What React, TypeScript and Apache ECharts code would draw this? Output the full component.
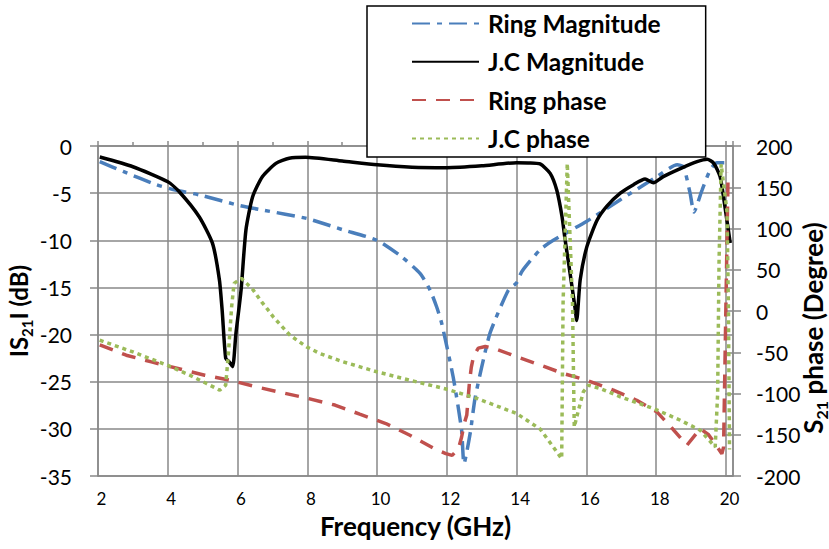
import React, { useEffect, useRef } from "react";
import * as echarts from "echarts";

// ---- data ----
const freqTicks = [2, 4, 6, 8, 10, 12, 14, 16, 18, 20];

const ringMagFreq = [2.05, 2.72, 3.67, 4.25, 4.92, 6.0, 6.73, 8.0, 9.03, 10.0, 10.65, 11.23, 11.52, 11.71, 11.85, 12.18, 12.42, 12.49, 12.67, 12.8, 13.0, 13.24, 13.76, 14.0, 14.15, 14.67, 15.05, 16.0, 16.97, 18.02, 18.6, 18.78, 18.97, 19.08, 19.31, 19.55, 19.74, 19.95];
const ringMagDb = [-1.66, -2.7, -4.1, -4.7, -5.2, -6.26, -6.8, -7.7, -8.9, -10.0, -11.6, -13.5, -15.3, -17.1, -18.8, -24.5, -30.1, -33.7, -30.4, -26.9, -23.4, -19.8, -15.3, -14.5, -13.3, -11.0, -10.0, -8.0, -5.7, -3.25, -2.0, -2.2, -5.0, -7.0, -4.7, -2.5, -1.77, -1.77];

const jcMagFreq = [2.05, 3.0, 4.0, 4.33, 4.9, 5.28, 5.48, 5.56, 5.66, 5.76, 5.86, 5.95, 6.1, 6.24, 6.43, 6.71, 7.1, 7.48, 7.95, 9.0, 10.0, 11.0, 12.0, 13.0, 14.0, 14.33, 14.67, 14.96, 15.15, 15.3, 15.39, 15.53, 15.67, 15.72, 15.82, 16.01, 16.3, 16.58, 16.97, 17.35, 17.68, 17.92, 18.2, 18.69, 19.17, 19.46, 19.65, 19.83, 19.94, 20.12];
const jcMagDb = [-1.17, -2.2, -3.8, -4.85, -7.5, -10.3, -14.2, -17.5, -22.5, -22.9, -23.4, -20.0, -15.3, -8.9, -5.4, -3.25, -1.84, -1.3, -1.2, -1.6, -2.0, -2.25, -2.3, -2.1, -1.77, -1.8, -1.9, -2.9, -4.7, -7.5, -10.0, -13.5, -17.1, -18.5, -14.2, -10.7, -7.9, -6.4, -5.0, -4.1, -3.5, -3.9, -3.25, -2.4, -1.66, -1.4, -1.84, -3.25, -5.7, -10.3];

const ringPhFreq = [2.05, 2.81, 3.53, 4.29, 5.06, 5.78, 6.54, 7.31, 8.02, 8.79, 9.5, 10.25, 10.94, 11.63, 11.97, 12.15, 12.33, 12.42, 12.5, 12.57, 12.62, 12.65, 12.7, 12.77, 12.9, 13.1, 13.33, 14.0, 14.67, 15.34, 16.01, 16.77, 17.44, 18.02, 18.5, 18.88, 19.26, 19.5, 19.7, 19.88, 19.93, 20.06];
const ringPhDeg = [-41, -53.6, -61.7, -69.7, -77.8, -83.9, -92, -99.3, -106, -114, -125, -136.4, -150.6, -166.7, -172.8, -175, -167, -153, -136, -126, -100, -85, -68, -54, -45, -43, -45, -55.4, -65.5, -75.8, -83.9, -96, -108.2, -122.3, -144.3, -162.7, -142.5, -150, -162, -173, -165, 168];

const jcPhFreq = [2.05, 3.0, 4.0, 4.63, 5.11, 5.49, 5.66, 5.73, 5.83, 5.9, 6.11, 6.26, 6.45, 6.69, 6.88, 7.02, 7.5, 7.98, 8.36, 9.03, 10.0, 10.94, 12.0, 12.86, 14.0, 14.67, 15.05, 15.29, 15.33, 15.45, 15.6, 15.65, 15.77, 15.91, 16.06, 16.39, 16.97, 17.92, 18.69, 19.26, 19.69, 19.76, 19.8, 19.86, 20.03, 20.07, 20.1];
const jcPhDeg = [-35.4, -49.6, -66, -77.8, -87.9, -96, -90, -55.6, 5, 33.5, 39.6, 33.5, 25.3, 11.1, 1, -7, -29.3, -43.5, -51.5, -61.7, -73.8, -83.9, -94.8, -106, -124.3, -143, -164.8, -179, 10, 179, 10, -140.5, -120.3, -98, -90, -94, -104, -118.2, -132.4, -144.5, -164.8, -100, 60, 178, 120, 0, -168];

const seriesNames = ["Ring Magnitude", "J.C Magnitude", "Ring phase", "J.C phase"];

const pairs = (xs: number[], ys: number[]) => xs.map((x, i) => [x, ys[i]]);

const FONT = 'Lato, "Open Sans", "DejaVu Sans", sans-serif';
const GRID = "#888888";

export default function App() {
  const ref = useRef<HTMLDivElement>(null);
  useEffect(() => {
    if (!ref.current) return;
    const chart = echarts.init(ref.current, undefined, { renderer: "svg" });
    const option: any = {
      animation: false,
      backgroundColor: "#ffffff",
      textStyle: { fontFamily: FONT },
      grid: { left: 98, right: 96, top: 146, bottom: 73, containLabel: false, outerBoundsMode: "none" },
      legend: {
        left: 367,
        top: 6,
        orient: "vertical",
        selectedMode: false,
        itemWidth: 67,
        itemHeight: 14,
        itemGap: 13.3,
        padding: [5, 45, 6, 44],
        backgroundColor: "#ffffff",
        borderColor: "#000000",
        borderWidth: 1.5,
        borderRadius: 0,
        itemStyle: { opacity: 0 },
        textStyle: {
          fontFamily: FONT,
          fontSize: 24.5,
          fontWeight: "bold",
          color: "#000",
          lineHeight: 24,
          padding: [0, 0, 0, 4],
        },
        data: seriesNames,
      },
      xAxis: [
        {
          type: "value",
          position: "bottom",
          min: 2,
          max: 20.2,
          interval: 2,
          name: "Frequency (GHz)",
          nameLocation: "middle",
          nameGap: 37,
          nameTextStyle: { fontFamily: FONT, fontSize: 26, fontWeight: "bold", color: "#000" },
          axisLine: { show: true, onZero: false, lineStyle: { color: GRID, width: 1.5 } },
          axisTick: { show: false },
          axisLabel: {
            fontFamily: FONT,
            fontSize: 17,
            color: "#000",
            margin: 14,
            padding: [0, 0, 0, 7],
            showMaxLabel: false,
            formatter: (v: number) => (freqTicks.indexOf(v) >= 0 ? String(v) : ""),
          },
          splitLine: { show: true, lineStyle: { color: GRID, width: 1.5 } },
        },
        {
          type: "value",
          position: "top",
          min: 2,
          max: 20.2,
          interval: 2,
          axisLine: { show: true, onZero: false, lineStyle: { color: GRID, width: 1.5 } },
          axisTick: { show: true, length: 5, lineStyle: { color: GRID, width: 1.5 } },
          minorTick: { show: true, splitNumber: 2, length: 4, lineStyle: { color: GRID, width: 1.5 } },
          axisLabel: { show: false },
          splitLine: { show: false },
        },
      ],
      yAxis: [
        {
          type: "value",
          position: "left",
          min: -35,
          max: 0,
          interval: 5,
          name: "{a|IS}{b|21}{a|I (dB)}",
          nameLocation: "middle",
          nameRotate: 90,
          nameGap: 64,
          nameMoveOverlap: false,
          nameTextStyle: {
            rich: {
              a: { fontFamily: FONT, fontSize: 24, fontWeight: "bold", color: "#000", lineHeight: 32 },
              b: { fontFamily: FONT, fontSize: 15, fontWeight: "bold", color: "#000", verticalAlign: "bottom" },
            },
          },
          axisLine: { show: true, onZero: false, lineStyle: { color: GRID, width: 1.5 } },
          axisTick: { show: true, length: 8, lineStyle: { color: GRID, width: 1.5 } },
          axisLabel: { fontFamily: FONT, fontSize: 21, color: "#000", margin: 26 },
          splitLine: { show: true, lineStyle: { color: GRID, width: 1.5 } },
        },
        {
          type: "value",
          position: "right",
          min: -200,
          max: 200,
          interval: 50,
          name: "{a|S}{b|21}{a| phase (Degree)}",
          nameLocation: "middle",
          nameRotate: 90,
          nameGap: 64,
          nameMoveOverlap: false,
          nameTextStyle: {
            padding: [0, 34, 0, 0],
            rich: {
              a: { fontFamily: FONT, fontSize: 26, fontWeight: "bold", color: "#000", lineHeight: 32 },
              b: { fontFamily: FONT, fontSize: 16, fontWeight: "bold", color: "#000", verticalAlign: "bottom" },
            },
          },
          axisLine: { show: true, onZero: false, lineStyle: { color: GRID, width: 1.5 } },
          axisTick: { show: true, length: 8, lineStyle: { color: GRID, width: 1.5 } },
          axisLabel: { fontFamily: FONT, fontSize: 21, color: "#000", margin: 23 },
          splitLine: { show: false },
        },
        {
          type: "value",
          position: "right",
          min: -200,
          max: 200,
          interval: 50,
          axisLine: { show: false, onZero: false },
          axisTick: { show: true, inside: true, length: 8, lineStyle: { color: GRID, width: 1.5 } },
          axisLabel: { show: false },
          splitLine: { show: false },
        },
      ],
      series: [
        {
          name: seriesNames[0],
          type: "line",
          xAxisIndex: 0,
          yAxisIndex: 0,
          symbol: "none",
          smooth: 0.2,
          data: pairs(ringMagFreq, ringMagDb),
          lineStyle: { color: "#4A7EBB", width: 3.5, type: [18, 7, 5, 7] },
          itemStyle: { color: "#4A7EBB" },
        },
        {
          name: seriesNames[1],
          type: "line",
          xAxisIndex: 0,
          yAxisIndex: 0,
          symbol: "none",
          smooth: 0.2,
          data: pairs(jcMagFreq, jcMagDb),
          lineStyle: { color: "#000000", width: 3.5, type: "solid" },
          itemStyle: { color: "#000000" },
        },
        {
          name: seriesNames[2],
          type: "line",
          xAxisIndex: 0,
          yAxisIndex: 1,
          symbol: "none",
          data: pairs(ringPhFreq, ringPhDeg),
          lineStyle: { color: "#C0504D", width: 3.5, type: [14, 10] },
          itemStyle: { color: "#C0504D" },
        },
        {
          name: seriesNames[3],
          type: "line",
          xAxisIndex: 0,
          yAxisIndex: 1,
          symbol: "none",
          data: pairs(jcPhFreq, jcPhDeg),
          lineStyle: { color: "#9BBB59", width: 3.5, type: [4, 4] },
          itemStyle: { color: "#9BBB59" },
        },
      ],
    };
    chart.setOption(option);
    return () => chart.dispose();
  }, []);
  return (
    <div
      ref={ref}
      style={{ position: "absolute", left: 0, top: 0, width: 829, height: 549, background: "#fff" }}
    />
  );
}
